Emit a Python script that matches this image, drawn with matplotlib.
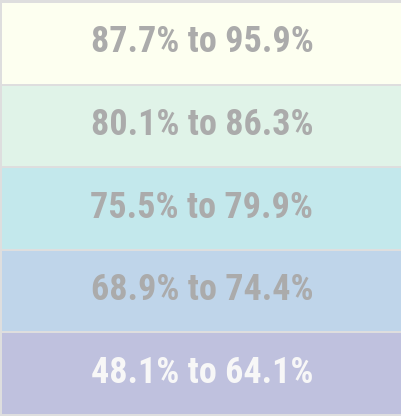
import matplotlib
matplotlib.use("Agg")
import matplotlib.pyplot as plt

labels = ["87.7% to 95.9%", "80.1% to 86.3%", "75.5% to 79.9%", "68.9% to 74.4%", "48.1% to 64.1%"]
colors = ["#fdfff0", "#e0f3e8", "#c3e8ec", "#bfd5ea", "#bfc1de"]
text_colors = ["#ababab", "#ababab", "#ababab", "#ababab", "#f7f7f7"]

W, H = 402, 416
fig = plt.figure(figsize=(W / 100, H / 100), dpi=100, facecolor="#dedede")
ax = fig.add_axes([2 / W, 1 / H, 400 / W, 413 / H])
ax.set_facecolor("#dedede")
n = len(labels)
ypos = list(range(n))
ax.barh(ypos, [1] * n, left=0, height=0.976, color=colors, edgecolor="none")
for y, lab, tc in zip(ypos, labels, text_colors):
    ax.text(0.5, y - 0.01, lab, ha="center", va="center", color=tc,
            fontsize=26, fontweight="bold",
            family=["Roboto Condensed", "Roboto", "DejaVu Sans"])
ax.set_xlim(0, 1)
ax.set_ylim(n - 0.5, -0.5)
ax.axis("off")
fig.savefig("out.png", dpi=100, facecolor=fig.get_facecolor())
